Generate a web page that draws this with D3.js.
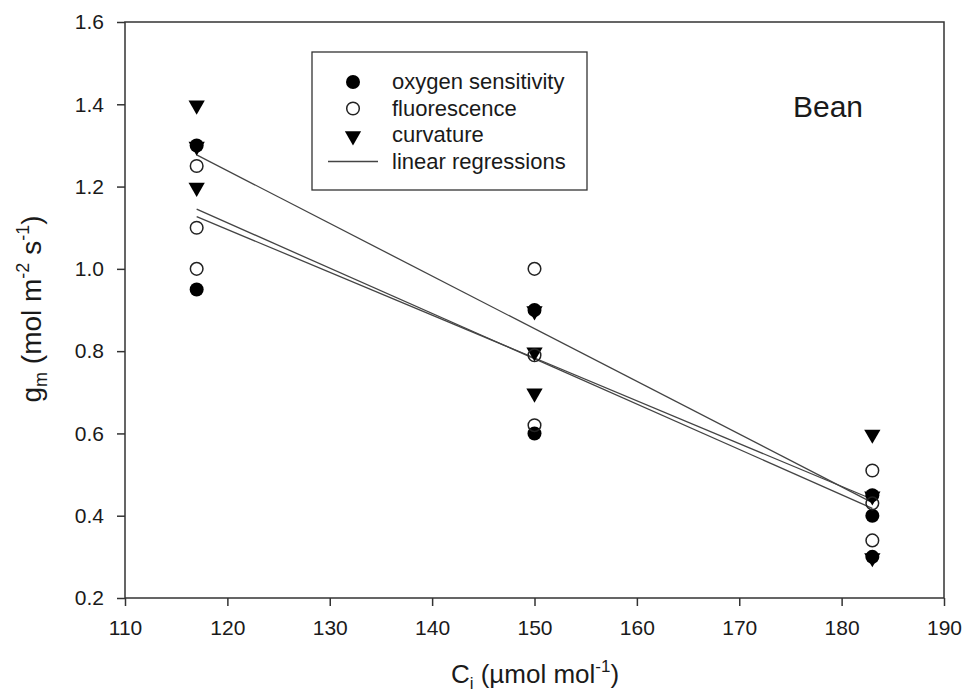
<!DOCTYPE html>
<html lang="en">
<head>
<meta charset="UTF-8">
<title>Bean gm vs Ci</title>
<script src="https://cdn.jsdelivr.net/npm/d3@7"></script>
<style>
  body { margin: 0; background: #fff; font-family: 'Liberation Sans', Arial, sans-serif; }
  svg text { fill: #1a1a1a; }
</style>
</head>
<body>
<svg id="chart" width="964" height="699"></svg>
<script>
// values
const oxygen = [[117, 1.30], [117, 0.95], [150, 0.90], [150, 0.60], [183, 0.45], [183, 0.40], [183, 0.30]];
const fluorescence = [[117, 1.25], [117, 1.10], [117, 1.00], [150, 1.00], [150, 0.79], [150, 0.62], [183, 0.51], [183, 0.43], [183, 0.34]];
const curvature = [[117, 1.40], [117, 1.30], [117, 1.20], [150, 0.90], [150, 0.80], [150, 0.70], [183, 0.60], [183, 0.45], [183, 0.30]];
// regression lines, endpoints at x = 117 and x = 183
const regressions = [[1.277, 0.432], [1.145, 0.418], [1.127, 0.440]];
const regX = [117, 183];
const xTicks = [110, 120, 130, 140, 150, 160, 170, 180, 190];
const yTicks = [0.2, 0.4, 0.6, 0.8, 1.0, 1.2, 1.4, 1.6];
const legendItems = ["oxygen sensitivity", "fluorescence", "curvature", "linear regressions"];

const svg = d3.select("#chart");
const mLeft = 125, mRight = 944, mTop = 22, mBottom = 598;

const x = d3.scaleLinear().domain([110, 190]).range([mLeft, mRight]);
const y = d3.scaleLinear().domain([0.2, 1.6]).range([mBottom, mTop]);

const ink = "#222";

// frame
svg.append("rect")
    .attr("x", mLeft).attr("y", mTop)
    .attr("width", mRight - mLeft).attr("height", mBottom - mTop)
    .attr("fill", "none").attr("stroke", "#333").attr("stroke-width", 1.5);

// axes
const xAxis = svg.append("g").attr("transform", `translate(0,${mBottom})`)
    .call(d3.axisBottom(x).tickValues(xTicks).tickSize(8).tickPadding(14));
const yAxis = svg.append("g").attr("transform", `translate(${mLeft},0)`)
    .call(d3.axisLeft(y).tickValues(yTicks).tickSize(8).tickPadding(13).tickFormat(d3.format(".1f")));
[xAxis, yAxis].forEach(a => {
    a.select(".domain").remove();
    a.selectAll("line").attr("stroke", "#333").attr("stroke-width", 1.5);
    a.selectAll("text").attr("font-size", 21).attr("font-family", "'Liberation Sans', Arial, sans-serif").attr("fill", ink);
});

// regression lines
const lineGen = d3.line().x(d => x(d[0])).y(d => y(d[1]));
svg.append("g").selectAll("path")
    .data(regressions)
    .enter().append("path")
    .attr("d", d => lineGen([[regX[0], d[0]], [regX[1], d[1]]]))
    .attr("fill", "none").attr("stroke", "#444").attr("stroke-width", 1.3);

// markers
const triangle = d3.symbol().type(d3.symbolTriangle).size(115);
function drawTriangles(data) {
    svg.append("g").selectAll("path")
        .data(data).enter().append("path")
        .attr("d", triangle)
        .attr("transform", d => `translate(${x(d[0])},${y(d[1]) + 1}) rotate(180)`)
        .attr("fill", "#000");
}
drawTriangles(curvature);

svg.append("g").selectAll("circle")
    .data(oxygen).enter().append("circle")
    .attr("cx", d => x(d[0])).attr("cy", d => y(d[1]))
    .attr("r", 7).attr("fill", "#000");

svg.append("g").selectAll("circle")
    .data(fluorescence).enter().append("circle")
    .attr("cx", d => x(d[0])).attr("cy", d => y(d[1]))
    .attr("r", 6.3).attr("fill", "none")
    .attr("stroke", "#222").attr("stroke-width", 1.5);

// legend
const lg = svg.append("g");
lg.append("rect")
    .attr("x", 312).attr("y", 52).attr("width", 275).attr("height", 138)
    .attr("fill", "#fff").attr("stroke", "#333").attr("stroke-width", 1.3);
const rowY = d => 82 + d * 26.5;
legendItems.forEach((label, i) => {
    lg.append("text")
        .attr("x", 392).attr("y", rowY(i) + 7)
        .attr("font-size", 22).text(label);
});
lg.append("circle").attr("cx", 353).attr("cy", rowY(0)).attr("r", 7).attr("fill", "#000");
lg.append("circle").attr("cx", 353).attr("cy", rowY(1)).attr("r", 6.3)
    .attr("fill", "none").attr("stroke", "#222").attr("stroke-width", 1.5);
lg.append("path").attr("d", triangle)
    .attr("transform", `translate(353,${rowY(2) + 1}) rotate(180)`).attr("fill", "#000");
lg.append("line").attr("x1", 328).attr("x2", 378).attr("y1", rowY(3)).attr("y2", rowY(3))
    .attr("stroke", "#444").attr("stroke-width", 1.3);

// panel label
svg.append("text").attr("x", 828).attr("y", 117).attr("text-anchor", "middle")
    .attr("font-size", 30).text("Bean");

// axis titles
const xt = svg.append("text").attr("x", 535).attr("y", 683).attr("text-anchor", "middle").attr("font-size", 26);
xt.append("tspan").text("C");
xt.append("tspan").attr("font-size", 17).attr("dy", 6).text("i");
xt.append("tspan").attr("dy", -6).text(" (\u00b5mol mol");
xt.append("tspan").attr("font-size", 17).attr("dy", -11).text("-1");
xt.append("tspan").attr("dy", 11).text(")");

const yt = svg.append("text").attr("transform", "translate(41,309) rotate(-90)")
    .attr("text-anchor", "middle").attr("font-size", 28);
yt.append("tspan").text("g");
yt.append("tspan").attr("font-size", 18).attr("dy", 6).text("m");
yt.append("tspan").attr("dy", -6).text(" (mol m");
yt.append("tspan").attr("font-size", 18).attr("dy", -12).text("-2");
yt.append("tspan").attr("dy", 12).text("  s");
yt.append("tspan").attr("font-size", 18).attr("dy", -12).text("-1");
yt.append("tspan").attr("dy", 12).text(")");
</script>
</body>
</html>
